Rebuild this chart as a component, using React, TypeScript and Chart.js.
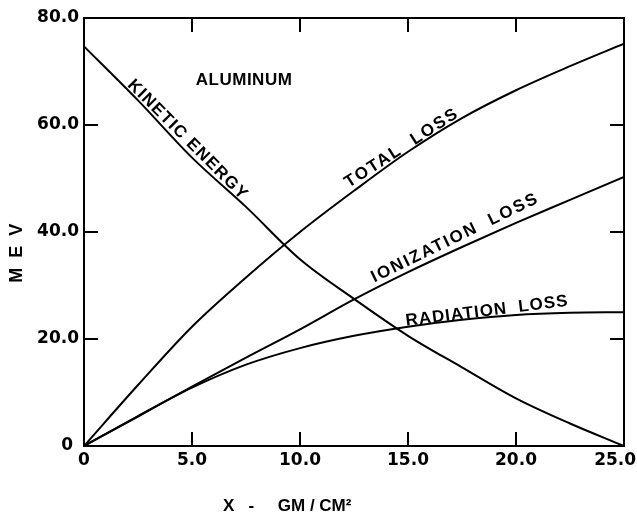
import React, { useEffect, useRef } from "react";
import { Chart, registerables } from "chart.js";

Chart.register(...registerables);

// Data (x in GM/CM², y in MEV)
const xValues = [0, 2.5, 5, 7.5, 10, 12.5, 15, 17.5, 20, 22.5, 25];
const kineticEnergy = [74.7, 64.6, 53.9, 44.7, 34.9, 27.5, 20.6, 14.7, 8.9, 4.2, 0];
const totalLoss = [0, 11.4, 22.3, 31.5, 40.0, 47.7, 55.0, 61.3, 66.5, 71.0, 75.2];
const ionizationLoss = [0, 5.5, 11.1, 16.5, 21.8, 27.4, 32.5, 37.2, 41.7, 46.0, 50.3];
const radiationLoss = [0, 5.6, 10.9, 15.2, 18.3, 20.6, 22.3, 23.6, 24.5, 24.9, 25.0];

const xTickLabels = ["0", "5.0", "10.0", "15.0", "20.0", "25.0\u00A0\u00A0\u00A0"];
const yTickLabels = ["0 ", "20.0", "40.0", "60.0", "80.0"];

const seriesNames = ["KINETIC ENERGY", "TOTAL LOSS", "IONIZATION LOSS", "RADIATION LOSS"];
const xTitle = "X   -     GM / CM²";
const yTitle = "M E V";

// Curve annotations: [text, x, y, angle(deg), letterSpacing]
const annotations: [string, number, number, number, number][] = [
  ["ALUMINUM", 7.41, 68.4, 0, 0.5],
  ["KINETIC ENERGY", 4.8, 57.2, 45, 1.3],
  ["TOTAL  LOSS", 14.72, 55.7, -33, 2],
  ["IONIZATION  LOSS", 17.18, 38.9, -26, 2],
  ["RADIATION  LOSS", 18.66, 25.2, -7, 1],
];

const TICK_FONT = "'DejaVu Sans', sans-serif";
const TEXT_FONT = "'Liberation Sans', Arial, sans-serif";

const decorPlugin = {
  id: "decor",
  afterDraw(chart: any) {
    const { ctx, chartArea } = chart;
    const xs = chart.scales.x;
    const ys = chart.scales.y;
    const { left, right, top, bottom } = chartArea;
    ctx.save();
    ctx.strokeStyle = "#000";
    ctx.lineWidth = 2;
    ctx.strokeRect(left, top, right - left, bottom - top);
    const TL = 14;
    ctx.beginPath();
    [5, 10, 15, 20].forEach((v) => {
      const p = xs.getPixelForValue(v);
      ctx.moveTo(p, bottom);
      ctx.lineTo(p, bottom - TL);
      ctx.moveTo(p, top);
      ctx.lineTo(p, top + TL);
    });
    [20, 40, 60].forEach((v) => {
      const p = ys.getPixelForValue(v);
      ctx.moveTo(left, p);
      ctx.lineTo(left + TL, p);
      ctx.moveTo(right, p);
      ctx.lineTo(right - TL, p);
    });
    ctx.stroke();

    ctx.fillStyle = "#000";
    ctx.textAlign = "center";
    ctx.textBaseline = "middle";
    annotations.forEach(([text, x, y, ang, ls]) => {
      ctx.save();
      ctx.translate(xs.getPixelForValue(x), ys.getPixelForValue(y));
      ctx.rotate((ang * Math.PI) / 180);
      ctx.font = `bold 17px ${TEXT_FONT}`;
      (ctx as any).letterSpacing = `${ls}px`;
      ctx.fillText(text, 0, 0);
      ctx.restore();
    });

    // axis titles
    ctx.font = `bold 17px ${TEXT_FONT}`;
    (ctx as any).letterSpacing = "0px";
    ctx.textAlign = "left";
    ctx.fillText(xTitle, left + 139, 506);
    ctx.save();
    ctx.translate(17, (top + bottom) / 2 + 20);
    ctx.rotate(-Math.PI / 2);
    ctx.textAlign = "center";
    ctx.font = `bold 18px ${TEXT_FONT}`;
    (ctx as any).letterSpacing = "2.5px";
    ctx.fillText(yTitle, 0, 0);
    ctx.restore();
    ctx.restore();
  },
};

export default function App() {
  const ref = useRef<HTMLCanvasElement>(null);
  useEffect(() => {
    if (!ref.current) return;
    const mk = (data: number[], label: string) => ({
      label,
      data: xValues.map((x, i) => ({ x, y: data[i] })),
      borderColor: "#000",
      backgroundColor: "#000",
      borderWidth: 2,
      pointRadius: 0,
      cubicInterpolationMode: "monotone" as const,
      fill: false,
    });
    const chart = new Chart(ref.current, {
      type: "line",
      data: {
        datasets: [
          mk(kineticEnergy, seriesNames[0]),
          mk(totalLoss, seriesNames[1]),
          mk(ionizationLoss, seriesNames[2]),
          mk(radiationLoss, seriesNames[3]),
        ],
      },
      options: {
        animation: false,
        responsive: false,
        layout: { padding: { top: 18, right: 13, left: 0, bottom: 0 } },
        plugins: { legend: { display: false }, tooltip: { enabled: false } },
        scales: {
          x: {
            type: "linear",
            min: 0,
            max: 25,
            grid: { display: false, drawTicks: false },
            border: { display: false },
            ticks: {
              stepSize: 5,
              padding: 4,
              color: "#000",
              font: { family: TICK_FONT, weight: "bold", size: 17 },
              callback: (v: any) => xTickLabels[Math.round(Number(v) / 5)],
            },
            afterFit: (s: any) => {
              s.height = 69;
              s.paddingRight = 0;
              s.paddingLeft = 0;
            },
          },
          y: {
            min: 0,
            max: 80,
            grid: { display: false, drawTicks: false },
            border: { display: false },
            ticks: {
              stepSize: 20,
              padding: 5,
              color: "#000",
              font: { family: TICK_FONT, weight: "bold", size: 17 },
              callback: (v: any) => yTickLabels[Math.round(Number(v) / 20)],
            },
            afterFit: (s: any) => {
              s.width = 84;
              s.paddingTop = 0;
              s.paddingBottom = 0;
            },
          },
        },
      },
      plugins: [decorPlugin],
    });
    return () => chart.destroy();
  }, []);
  return (
    <div style={{ position: "fixed", left: 0, top: 0, background: "#fff" }}>
      <canvas ref={ref} width={637} height={515} style={{ display: "block" }} />
    </div>
  );
}
